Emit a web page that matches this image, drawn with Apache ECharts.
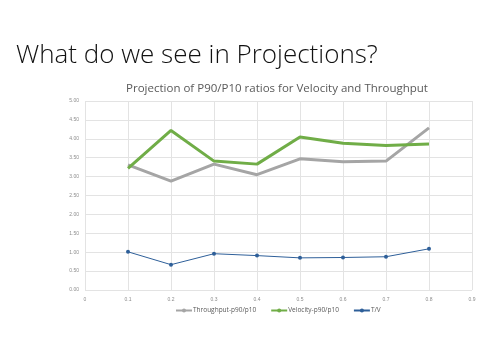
<!DOCTYPE html>
<html><head><meta charset="utf-8">
<script src="https://cdn.jsdelivr.net/npm/echarts@6/dist/echarts.min.js"></script>
<style>html,body{margin:0;padding:0;background:#fff}#c{width:497px;height:360px}</style>
</head><body><div id="c"></div>
<script>
const xValues = [0.1, 0.2, 0.3, 0.4, 0.5, 0.6, 0.7, 0.8];
const throughput = [3.31, 2.88, 3.33, 3.05, 3.47, 3.39, 3.41, 4.29];
const velocity = [3.22, 4.22, 3.41, 3.33, 4.05, 3.88, 3.82, 3.86];
const tv = [1.01, 0.67, 0.96, 0.91, 0.85, 0.86, 0.88, 1.09];
const seriesNames = ['Throughput-p90/p10', 'Velocity-p90/p10', 'T/V'];

const pair = arr => xValues.map((x, i) => [x, arr[i]]);
const chart = echarts.init(document.getElementById('c'));
chart.setOption({
  animation: false,
  title: [
    {text: 'What do we see in Projections?', left: 11, top: 38,
     textStyle: {fontFamily: 'Open Sans', fontWeight: 300, fontSize: 26, color: '#111'}},
    {text: 'Projection of P90/P10 ratios for Velocity and Throughput', left: 272, top: 78, textAlign: 'center',
     textStyle: {fontFamily: 'Open Sans', fontWeight: 'normal', fontSize: 11.5, color: '#595959'}}
  ],
  legend: {
    bottom: 41, left: 170, itemWidth: 16, itemHeight: 5, itemGap: 14,
    textStyle: {fontSize: 6.5, color: '#595959', fontFamily: 'Open Sans', padding: [0, 0, 0, -4]},
    data: seriesNames
  },
  grid: {left: 85, right: 25, top: 101, bottom: 70},
  xAxis: {
    type: 'value', min: 0, max: 0.9, interval: 0.1,
    axisLine: {show: false}, axisTick: {show: false},
    splitLine: {show: true, lineStyle: {color: '#e3e3e3'}},
    axisLabel: {fontSize: 5, color: '#8c8c8c', margin: 7,
      formatter: v => v === 0 ? '0' : (Math.round(v * 10) / 10).toString()}
  },
  yAxis: {
    type: 'value', min: 0, max: 5, interval: 0.5,
    axisLine: {show: false}, axisTick: {show: false},
    splitLine: {show: true, lineStyle: {color: '#e3e3e3'}},
    axisLabel: {fontSize: 5, color: '#8c8c8c', margin: 6, formatter: v => v.toFixed(2)}
  },
  series: [
    {name: seriesNames[0], type: 'line', data: pair(throughput), symbol: 'none',
     lineStyle: {color: '#a5a5a5', width: 3}, itemStyle: {color: '#a5a5a5'}},
    {name: seriesNames[1], type: 'line', data: pair(velocity), symbol: 'none',
     lineStyle: {color: '#70ad47', width: 3}, itemStyle: {color: '#70ad47'}},
    {name: seriesNames[2], type: 'line', data: pair(tv), symbol: 'circle', symbolSize: 4,
     lineStyle: {color: '#2e5f99', width: 1}, itemStyle: {color: '#2e5f99'}}
  ]
});
</script></body></html>
